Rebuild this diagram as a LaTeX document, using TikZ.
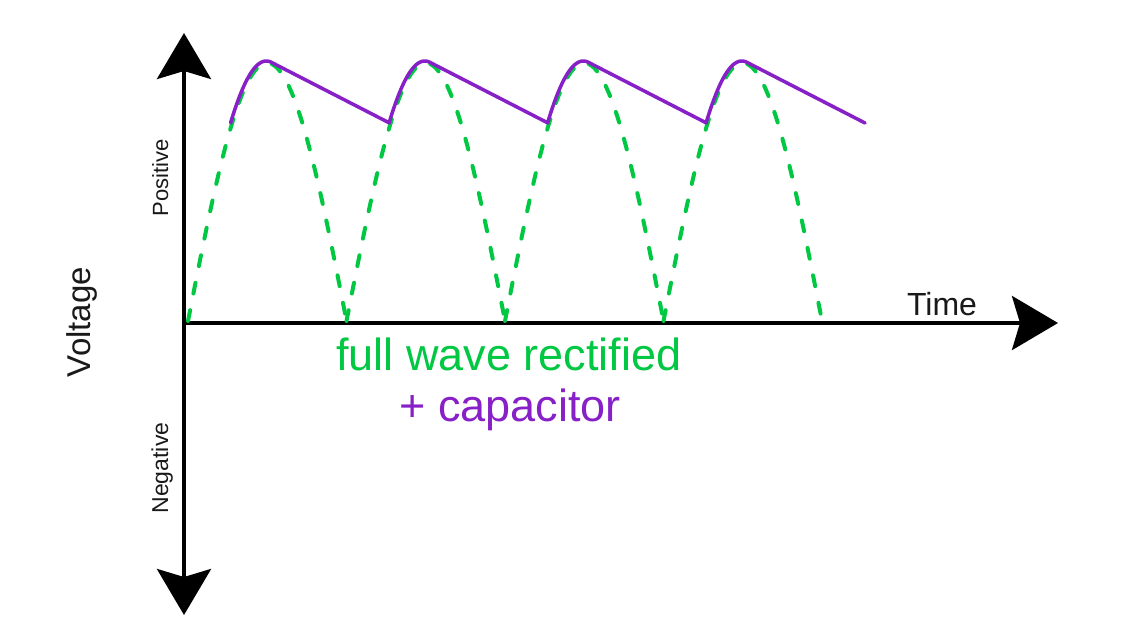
\documentclass[tikz,border=0pt]{standalone}
\usepackage{fontspec}
\setmainfont{Liberation Sans}
\usetikzlibrary{arrows.meta}
\definecolor{fwgreen}{RGB}{0,200,66}
\definecolor{cappurple}{RGB}{136,32,200}
\tikzset{
	bigtip/.tip={Stealth[length=46pt,width=54pt,inset=8pt]},
	axis/.style={line width=4pt, draw=black},
	rectwave/.style={draw=fwgreen, line width=4pt, line cap=round, dash pattern=on 11pt off 17pt},
	capline/.style={draw=cappurple, line width=3.5pt, line join=round, line cap=round},
	lbl/.style={anchor=base, inner sep=0pt, text=black!90, font=\fontsize{#1}{#1}\selectfont}
}
\begin{document}
\begin{tikzpicture}[x=1pt,y=-1pt]
	\fill[white] (0,0) rectangle (1132,642);
	% axes
	\coordinate (o) at (184,323);
	\coordinate (ytop) at (184,33);
	\coordinate (ybot) at (184,615);
	\coordinate (xend) at (1058,323);
	\draw[axis,bigtip-bigtip] (ytop) -- (ybot);
	\draw[axis,-bigtip] (o) -- (xend);
	% rectified half waves
	\foreach \k in {0,...,3}
		\draw[rectwave] plot[domain=0:180,samples=60] ({188+158.5*\k+0.8806*\x},{321-258*sin(\x)});
	% smoothed by the capacitor
	\draw[capline] (231,123) \foreach \k in {0,...,3}{
		-- plot[domain=49.7:96,samples=30] ({187+158.5*\k+0.8806*\x},{319-258*sin(\x)})
		-- ({231+158.5*(\k+1)},123)};
	% labels
	\node[lbl=45, text=fwgreen] (fwr) at (509,370) {full wave rectified};
	\node[lbl=45, text=cappurple] (cap) at (510,421) {+ capacitor};
	\node[lbl=32] (time) at (942,315) {Time};
	\node[lbl=33, rotate=90] (volt) at (90,322) {Voltage};
	\node[lbl=22, rotate=90] (pos) at (168,178) {Positive};
	\node[lbl=23, rotate=90] (neg) at (168,468) {Negative};
\end{tikzpicture}
\end{document}
